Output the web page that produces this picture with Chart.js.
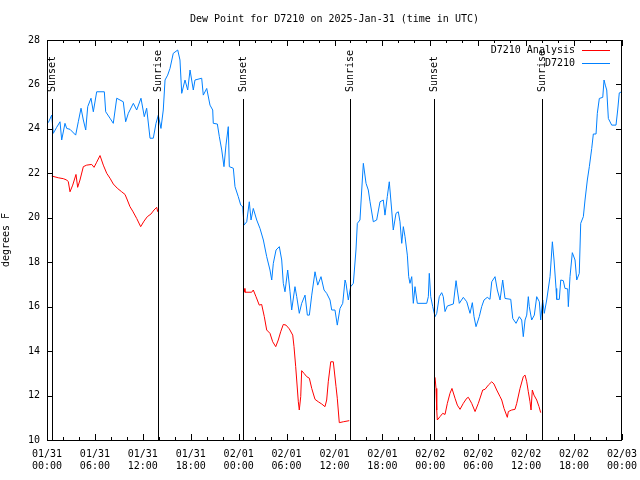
<!DOCTYPE html>
<html>
<head>
<meta charset="utf-8">
<script src="https://cdn.jsdelivr.net/npm/chart.js@4"></script>
<style>
  body { margin: 0; background: #fff; }
  canvas { display: block; }
</style>
</head>
<body>
<canvas id="dew" width="640" height="480"></canvas>
<script>
// hours since 01/31 00:00 UTC
var blueHours = [0.16,0.59,0.79,1.21,1.63,1.84,2.25,2.47,2.88,3.59,3.92,4.26,4.55,4.85,5.10,5.51,5.80,6.22,7.18,7.35,7.89,8.30,8.73,9.14,9.55,9.85,10.18,10.81,11.23,11.77,12.18,12.48,12.90,13.31,13.65,13.94,14.27,14.56,14.78,15.11,15.40,15.81,16.37,16.65,16.87,17.28,17.62,17.91,18.32,18.53,19.37,19.57,20.00,20.41,20.75,20.82,21.33,21.58,21.88,22.16,22.41,22.70,22.83,23.33,23.54,23.95,24.26,24.51,24.67,25.01,25.33,25.55,25.83,26.26,26.67,27.09,27.51,27.92,28.14,28.34,28.68,29.09,29.39,29.59,29.80,30.14,30.43,30.64,31.05,31.27,31.59,31.89,32.31,32.60,32.85,33.15,33.56,33.90,34.31,34.69,35.02,35.44,35.65,36.06,36.35,36.69,37.03,37.32,37.44,37.73,38.03,38.36,38.69,38.86,39.19,39.41,39.61,39.95,40.23,40.45,40.86,41.28,41.70,42.11,42.32,42.61,42.86,43.16,43.36,43.70,43.99,44.20,44.42,44.62,44.83,45.12,45.29,45.45,45.67,45.87,46.08,46.37,47.55,47.75,47.87,48.05,48.30,48.59,48.80,49.12,49.42,49.62,49.84,50.13,50.88,51.22,51.38,51.63,52.13,52.56,52.97,53.26,53.47,53.72,54.13,54.43,54.72,55.13,55.47,55.69,56.10,56.39,56.73,57.06,57.35,58.07,58.32,58.73,59.14,59.44,59.64,59.86,60.07,60.27,60.39,60.69,61.02,61.32,61.65,61.82,62.07,62.27,62.57,62.99,63.28,63.49,63.74,63.82,64.15,64.33,64.65,64.86,65.20,65.28,65.49,65.78,66.12,66.33,66.65,66.83,67.16,67.37,67.66,67.91,68.21,68.41,68.75,68.91,69.16,69.59,69.75,69.91,70.09,70.29,70.71,71.25,71.46,71.66,71.96];
var blueValues = [24.28,24.62,23.8,24.07,24.32,23.5,24.25,24.02,23.98,23.72,24.32,24.93,24.4,23.95,25.0,25.38,24.77,25.67,25.67,24.77,24.48,24.25,25.38,25.3,25.22,24.32,24.7,25.15,24.85,25.38,24.55,24.93,23.58,23.58,24.25,24.62,24.02,24.85,26.2,26.42,26.72,27.4,27.55,27.1,25.6,26.2,25.75,26.65,25.75,26.2,26.28,25.52,25.82,25.07,24.85,24.25,24.22,23.65,23.05,22.3,23.27,24.1,22.3,22.23,21.4,20.95,20.57,20.5,19.67,19.82,20.72,19.9,20.42,19.9,19.52,19.0,18.25,17.65,17.2,17.95,18.55,18.7,18.1,17.05,16.67,17.65,16.67,15.85,16.9,16.45,15.7,16.15,16.52,15.62,15.62,16.52,17.57,16.97,17.35,16.75,16.6,16.3,15.85,15.85,15.17,15.92,16.15,17.2,17.05,16.3,16.9,17.05,18.55,19.75,19.9,21.25,22.45,21.55,21.25,20.72,19.82,19.9,20.72,20.8,20.12,20.95,21.62,20.35,19.45,20.2,20.27,19.82,18.85,19.6,19.15,18.32,17.35,17.05,17.35,16.15,16.9,16.15,16.15,16.45,17.5,16.45,16.0,15.55,15.7,16.45,16.63,16.45,15.78,16.03,16.12,17.17,16.75,16.15,16.42,16.22,15.7,16.18,15.55,15.1,15.55,16.0,16.3,16.42,16.33,17.12,17.35,16.75,16.3,17.2,16.37,16.33,15.47,15.25,15.55,15.4,14.65,15.4,15.62,16.45,16.0,15.4,15.62,16.45,16.22,15.4,16.3,15.7,16.3,17.35,18.92,18.1,16.82,16.33,16.33,17.2,17.17,16.82,16.8,16.0,17.35,18.43,18.1,17.2,17.5,19.75,20.05,20.8,21.7,22.3,23.12,23.77,23.77,24.7,25.37,25.42,26.2,25.97,25.75,24.47,24.17,24.17,24.85,25.62,25.67];

// analysis: three evening runs, null = gap
var redHours = [0.59,1.41,2.04,2.47,2.67,2.88,3.22,3.63,3.84,4.13,4.55,4.97,5.60,5.89,6.22,6.64,7.05,7.48,7.89,8.30,8.80,9.35,9.77,10.06,10.39,10.73,11.23,11.73,12.15,12.56,13.02,13.40,13.74,13.86,
  19.0,
  24.67,24.79,25.63,25.83,26.17,26.58,26.88,27.21,27.51,27.92,28.26,28.64,28.96,29.26,29.59,29.93,30.34,30.77,30.93,31.14,31.47,31.59,31.77,31.89,32.18,32.52,32.85,33.15,33.56,33.97,34.40,34.81,35.02,35.22,35.53,35.85,36.19,36.35,36.60,37.10,37.85,
  43.0,
  48.59,48.71,48.80,48.87,49.21,49.55,49.84,50.13,50.46,50.71,51.09,51.38,51.72,52.13,52.56,52.76,53.18,53.60,54.01,54.56,54.85,55.26,55.69,55.97,56.31,56.73,56.94,57.23,57.64,57.77,58.19,58.60,58.82,59.23,59.64,59.86,60.07,60.27,60.48,60.61,60.77,60.98,61.32,61.61,61.82];
var redValues = [21.88,21.8,21.76,21.7,21.62,21.17,21.47,21.95,21.37,21.7,22.3,22.37,22.4,22.27,22.5,22.8,22.37,22.0,21.78,21.52,21.33,21.17,21.05,20.8,20.5,20.3,19.97,19.6,19.85,20.05,20.17,20.35,20.47,20.27,
  null,
  16.82,16.65,16.65,16.75,16.45,16.07,16.1,15.55,14.95,14.8,14.42,14.2,14.5,14.87,15.2,15.17,15.0,14.72,14.2,13.3,11.72,11.35,11.95,13.12,13.0,12.85,12.78,12.32,11.83,11.72,11.62,11.5,11.8,12.62,13.52,13.52,12.4,11.88,10.78,10.82,10.87,
  null,
  12.82,12.32,11.35,10.9,11.05,11.2,11.15,11.65,12.1,12.32,11.88,11.57,11.38,11.65,11.88,11.92,11.65,11.28,11.65,12.25,12.28,12.47,12.62,12.52,12.25,11.95,11.8,11.42,11.02,11.28,11.35,11.38,11.65,12.32,12.85,12.92,12.62,12.17,11.72,11.35,12.25,12.02,11.8,11.5,11.23];

var sunHours = [0.6, 13.95, 24.5, 38.0, 48.5, 61.95];
var sunLabels = ['Sunset', 'Sunrise', 'Sunset', 'Sunrise', 'Sunset', 'Sunrise'];

var tickLabels = [
  ['01/31', '00:00'], ['01/31', '06:00'], ['01/31', '12:00'], ['01/31', '18:00'],
  ['02/01', '00:00'], ['02/01', '06:00'], ['02/01', '12:00'], ['02/01', '18:00'],
  ['02/02', '00:00'], ['02/02', '06:00'], ['02/02', '12:00'], ['02/02', '18:00'],
  ['02/03', '00:00']
];

var seriesNames = ['D7210 Analysis', 'D7210'];
var seriesColors = ['#ff0000', '#0080ff'];
var chartTitle = 'Dew Point for D7210 on 2025-Jan-31 (time in UTC)';

var monoFont = { family: 'DejaVu Sans Mono', size: 10 };
var fontStr = '10px "DejaVu Sans Mono"';

function toPoints(xs, ys) {
  return xs.map(function (x, i) { return { x: x, y: ys[i] }; });
}

// gnuplot look: frame, inward ticks, sun lines, legend, title
var gnuplotBits = {
  id: 'gnuplotBits',
  afterDatasetsDraw: function (chart) {
    var ctx = chart.ctx;
    var a = chart.chartArea;
    var xs = chart.scales.x, ys = chart.scales.y;
    ctx.save();
    ctx.strokeStyle = '#000';
    ctx.fillStyle = '#000';
    ctx.lineWidth = 1;

    // sunrise / sunset lines
    ctx.font = fontStr;
    sunHours.forEach(function (h, i) {
      var px = Math.round(xs.getPixelForValue(h)) + 0.5;
      ctx.beginPath();
      ctx.moveTo(px, 99);
      ctx.lineTo(px, a.bottom);
      ctx.stroke();
      ctx.save();
      ctx.translate(px, 92);
      ctx.rotate(-Math.PI / 2);
      ctx.textAlign = 'left';
      ctx.textBaseline = 'middle';
      ctx.fillText(sunLabels[i], 0, 0);
      ctx.restore();
    });

    // frame
    ctx.strokeRect(a.left + 0.5, a.top + 0.5, a.right - a.left - 1, a.bottom - a.top);

    // ticks
    ctx.beginPath();
    for (var v = 10; v <= 28; v += 2) {
      var py = Math.round(ys.getPixelForValue(v)) + 0.5;
      ctx.moveTo(a.left, py); ctx.lineTo(a.left + 6, py);
      ctx.moveTo(a.right, py); ctx.lineTo(a.right - 6, py);
    }
    for (var h = 0; h <= 72; h += 2) {
      var px = Math.round(xs.getPixelForValue(h)) + 0.5;
      var len = (h % 6 === 0) ? 6 : 3;
      ctx.moveTo(px, a.bottom); ctx.lineTo(px, a.bottom - len);
      ctx.moveTo(px, a.top); ctx.lineTo(px, a.top + len);
    }
    ctx.stroke();

    // legend
    ctx.textAlign = 'right';
    ctx.textBaseline = 'middle';
    seriesNames.forEach(function (name, i) {
      var ly = 50 + i * 13;
      ctx.fillStyle = '#000';
      ctx.fillText(name, 575, ly);
      ctx.strokeStyle = seriesColors[i];
      ctx.beginPath();
      ctx.moveTo(582, ly + 0.5);
      ctx.lineTo(610, ly + 0.5);
      ctx.stroke();
    });

    // title
    ctx.fillStyle = '#000';
    ctx.textAlign = 'center';
    ctx.fillText(chartTitle, (a.left + a.right) / 2, 19);
    ctx.restore();
  }
};

var ctxDew = document.getElementById('dew').getContext('2d');

var dewChart = new Chart(ctxDew, {
  type: 'line',
  data: {
    datasets: [{
      label: seriesNames[0],
      data: toPoints(redHours, redValues),
      borderColor: seriesColors[0],
      borderWidth: 1,
      pointRadius: 0,
      spanGaps: false
    }, {
      label: seriesNames[1],
      data: toPoints(blueHours, blueValues),
      borderColor: seriesColors[1],
      borderWidth: 1,
      pointRadius: 0
    }]
  },
  options: {
    responsive: false,
    animation: false,
    layout: { padding: { top: 40, right: 18, left: 0, bottom: 0 } },
    plugins: {
      legend: { display: false },
      title: { display: false },
      tooltip: { enabled: false }
    },
    elements: { line: { tension: 0 } },
    scales: {
      x: {
        type: 'linear',
        min: 0,
        max: 72,
        afterFit: function (s) { s.height = 40; s.paddingLeft = 0; s.paddingRight = 0; },
        grid: { display: false, drawTicks: false },
        border: { display: false },
        ticks: {
          stepSize: 6,
          autoSkip: false,
          maxRotation: 0,
          padding: 8,
          color: '#000',
          font: monoFont,
          callback: function (v) { return tickLabels[Math.round(v / 6)]; }
        }
      },
      y: {
        min: 10,
        max: 28,
        afterFit: function (s) { s.width = 47; s.paddingTop = 0; s.paddingBottom = 0; },
        grid: { display: false, drawTicks: false },
        border: { display: false },
        ticks: { stepSize: 2, padding: 7, color: '#000', font: monoFont },
        title: { display: true, text: 'degrees F', color: '#000', font: monoFont, padding: 0 }
      }
    }
  },
  plugins: [gnuplotBits]
});
</script>
</body>
</html>
